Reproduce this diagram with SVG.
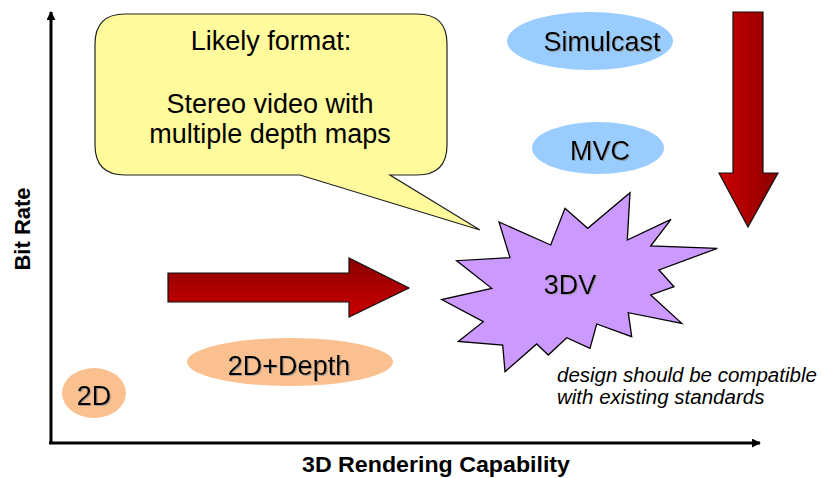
<svg xmlns="http://www.w3.org/2000/svg" width="823" height="478" viewBox="0 0 823 478">
<style>
.lbl{font-family:"Liberation Sans",Arial,sans-serif;font-size:27px;fill:#000;text-anchor:middle}
.shadow{filter:url(#ts)}
.axis{stroke:#000;stroke-width:3;fill:none}
.axlbl{font-family:"Liberation Sans",Arial,sans-serif;font-weight:bold;font-size:22px;fill:#000;text-anchor:middle}
.note{font-family:"Liberation Sans",Arial,sans-serif;font-style:italic;font-size:20.5px;fill:#000}
.ell-blue{fill:#99CCFF}
.ell-orange{fill:#FAC090}
.big-arrow{stroke:#111;stroke-width:1.2}
</style>
<defs>
<filter id="ts" x="-10%" y="-10%" width="130%" height="130%">
<feDropShadow dx="1" dy="1" stdDeviation="0.3" flood-color="#888" flood-opacity="0.7"/>
</filter>
<linearGradient id="gh" x1="0" y1="0" x2="0" y2="1">
<stop offset="0" stop-color="#8A0000"/>
<stop offset="1" stop-color="#CC0000"/>
</linearGradient>
<linearGradient id="gv" x1="0" y1="0" x2="1" y2="0">
<stop offset="0" stop-color="#CC0000"/>
<stop offset="1" stop-color="#8A0000"/>
</linearGradient>
<marker id="ah" viewBox="0 0 10 10" refX="9" refY="5" markerWidth="3" markerHeight="3" orient="auto-start-reverse">
<path d="M0,0 L10,5 L0,10 Z" fill="#000"/>
</marker>
</defs>
<rect width="823" height="478" fill="#fff"/>

<g id="connectors">
<path class="axis" d="M51,443 V12" marker-end="url(#ah)"/>
<path class="axis" d="M49,443 H760" marker-end="url(#ah)"/>
<path class="big-arrow" fill="url(#gh)" d="M168,273 H349 V258 L409,288 L349,317 V302 H168 Z"/>
<path class="big-arrow" fill="url(#gv)" d="M733,12 H763 V173 H778 L748,227 L719,173 H733 Z"/>
</g>

<g id="axis-labels">
<text class="axlbl" x="436" y="472" textLength="268" lengthAdjust="spacingAndGlyphs">3D Rendering Capability</text>
<text class="axlbl" transform="translate(30,229) rotate(-90)" x="0" y="0">Bit Rate</text>
</g>

<g id="callout">
<path d="M125,14 H417 Q447,14 447,44 V145 Q447,175 417,175 H390 L480,230 L300,175 H125 Q95,175 95,145 V44 Q95,14 125,14 Z" fill="#FFFA9C" stroke="#222" stroke-width="1.2"/>
<text class="lbl" x="271" y="50">Likely format:</text>
<text class="lbl" x="270" y="113">Stereo video with</text>
<text class="lbl" x="270" y="143">multiple depth maps</text>
</g>

<g id="simulcast">
<ellipse class="ell-blue" cx="590" cy="41" rx="83" ry="29"/>
<text class="lbl shadow" x="602" y="51">Simulcast</text>
</g>

<g id="mvc">
<ellipse class="ell-blue" cx="598" cy="148" rx="66" ry="26"/>
<text class="lbl shadow" x="600" y="160">MVC</text>
</g>

<g id="threedv">
<polygon points="499,222 550.7,245 565,208.3 587.7,228.3 630,192.7 627.3,240 671,219.3 650.7,246 717.3,248.3 659,270 674,286.7 650.7,295 681.7,323.3 628.3,312.7 631.7,336.7 596.7,324 590,348.3 566.7,337.7 548.3,355 536.7,344 505,371.7 502.7,345 458.3,341.5 483.3,321.7 441.7,299.5 491.7,288.3 456.7,260.7 510,257.7" fill="#CC99FF" stroke="#000" stroke-width="1.3" stroke-linejoin="miter"/>
<text class="lbl shadow" x="570" y="294">3DV</text>
</g>

<g id="depth2d">
<ellipse class="ell-orange" cx="290" cy="362" rx="103" ry="24"/>
<text class="lbl shadow" x="289" y="375">2D+Depth</text>
</g>

<g id="twod">
<ellipse class="ell-orange" cx="94" cy="393" rx="32" ry="25"/>
<text class="lbl shadow" x="94" y="405">2D</text>
</g>

<g id="note">
<text class="note" x="557" y="382">design should be compatible</text>
<text class="note" x="557" y="404">with existing standards</text>
</g>
</svg>
